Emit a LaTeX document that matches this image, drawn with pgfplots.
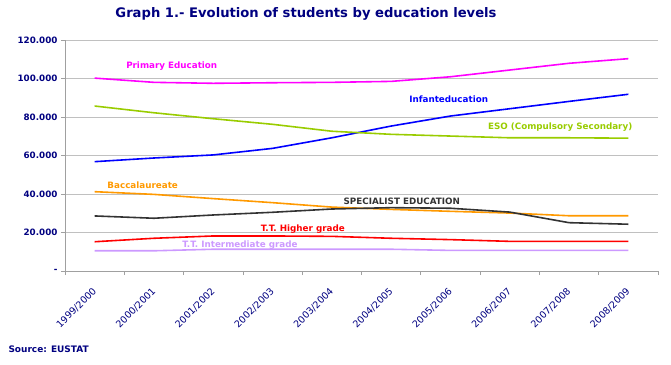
\documentclass[border=0pt]{standalone}
\usepackage{pgfplots}
\pgfplotsset{compat=1.18}
\usepackage{pgfplotstable}
\usepackage{fontspec}
\setmainfont{DejaVu Sans}
\definecolor{navy}{HTML}{000080}
\definecolor{cPrim}{HTML}{FF00FF}
\definecolor{cInf}{HTML}{0000FF}
\definecolor{cEso}{HTML}{99CC00}
\definecolor{cBac}{HTML}{FF9900}
\definecolor{cSpe}{HTML}{333333}
\definecolor{cHig}{HTML}{FF0000}
\definecolor{cInt}{HTML}{CC99FF}
\definecolor{gridgray}{HTML}{C0C0C0}
\definecolor{axgray}{HTML}{A0A0A0}
\pgfplotstableread{
x prim  inf   eso   bac   spe   hig   int
0 100200 56800 85700 41200 28600 15200 10500
1 98000  58700 82200 39800 27400 17000 10500
2 97500  60300 79100 37600 29100 18200 11300
3 97800  63700 76200 35500 30500 18200 11300
4 98000  69200 72600 33200 32200 18000 11300
5 98500  75300 71000 32000 32900 17000 11300
6 100900 80500 70100 31000 32600 16300 10700
7 104400 84300 69200 30100 30600 15400 10700
8 107900 88100 69200 28700 25100 15400 10700
9 110300 91800 69000 28700 24300 15400 10700
}\data
\begin{document}
\begin{tikzpicture}
\path (0,0) rectangle (671bp,365bp);
\node[font=\bfseries\fontsize{13.2}{15}\selectfont, text=navy] at (306bp,351bp) {Graph 1.- Evolution of students by education levels};
\node[font=\bfseries\fontsize{9}{11}\selectfont, text=navy, anchor=west] at (5bp,16bp) {Source: EUSTAT};
\begin{axis}[
  at={(65bp,94bp)}, anchor=south west,
  width=593bp, height=231bp, scale only axis,
  xmin=-0.5, xmax=9.5, ymin=0, ymax=120000,
  scaled y ticks=false,
  axis x line*=bottom, axis y line*=left,
  axis line style={axgray, line width=0.8pt},
  xtick={0,...,9},
  xticklabels={1999/2000,2000/2001,2001/2002,2002/2003,2003/2004,2004/2005,2005/2006,2006/2007,2007/2008,2008/2009},
  major x tick style={draw=none},
  minor xtick={-0.5,0.5,...,9.5},
  minor x tick style={axgray, line width=0.8pt},
  minor tick length=4bp,
  xticklabel style={rotate=45, anchor=north east, font=\fontsize{9.5}{11}\selectfont, text=navy, xshift=-7bp, yshift=-3bp},
  ytick={0,20000,...,120000},
  yticklabels={-,20.000,40.000,60.000,80.000,100.000,120.000},
  yticklabel style={font=\bfseries\fontsize{8.8}{10}\selectfont, text=navy},
  major y tick style={axgray, line width=0.8pt},
  major tick length=4bp,
  tick align=outside,
  ymajorgrids, major grid style={gridgray, line width=0.8pt},
  clip=false,
  every axis plot/.append style={line width=1.6pt, mark=none},
]
\addplot[cPrim] table[x=x,y=prim]{\data};
\addplot[cInf] table[x=x,y=inf]{\data};
\addplot[cEso] table[x=x,y=eso]{\data};
\addplot[cBac] table[x=x,y=bac]{\data};
\addplot[cSpe] table[x=x,y=spe]{\data};
\addplot[cHig] table[x=x,y=hig]{\data};
\addplot[cInt] table[x=x,y=int]{\data};
\begin{scope}[every node/.style={font=\bfseries\fontsize{8.8}{10}\selectfont}]
\node[text=cPrim] at (axis cs:1.30,106500) {Primary Education};
\node[text=cInf] at (axis cs:5.97,89350) {Infanteducation};
\node[text=cEso] at (axis cs:7.85,74800) {ESO (Compulsory Secondary)};
\node[text=cBac] at (axis cs:0.81,44700) {Baccalaureate};
\node[text=cSpe, font=\bfseries\fontsize{8.8}{10}\selectfont] at (axis cs:5.18,36400) {SPECIALIST EDUCATION};
\node[text=cHig] at (axis cs:3.51,21800) {T.T. Higher grade};
\node[text=cInt] at (axis cs:2.45,13500) {T.T. Intermediate grade};
\end{scope}
\end{axis}
\end{tikzpicture}
\end{document}
